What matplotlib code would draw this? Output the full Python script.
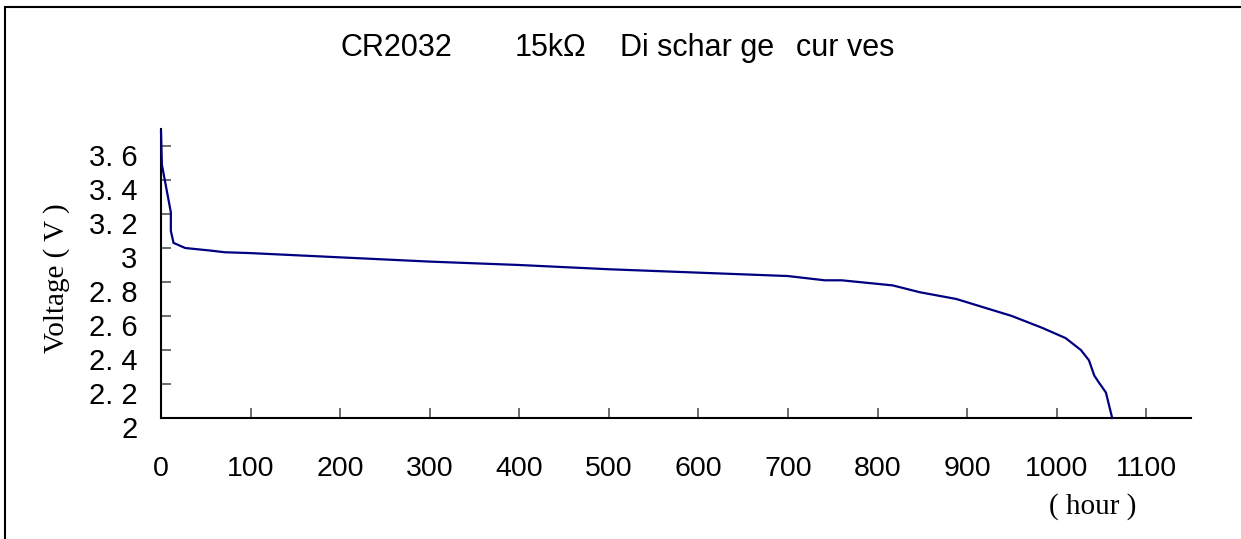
#! /usr/bin/env python
# -*- coding: utf-8 -*-

import matplotlib.pyplot as plt
from matplotlib.patches import Rectangle
from matplotlib.transforms import ScaledTranslation

# discharge curve
hours = [0, 1, 11, 11, 14, 27, 55, 71, 100, 200, 300, 400, 500, 600, 700,
         741, 760, 817, 847, 888, 950, 984, 1010, 1027, 1036, 1042, 1047, 1055, 1062]
volts = [3.69, 3.49, 3.21, 3.10, 3.03, 3.0, 2.985, 2.975, 2.97, 2.945, 2.92, 2.90,
         2.875, 2.855, 2.835, 2.81, 2.81, 2.78, 2.74, 2.70, 2.60, 2.53, 2.47, 2.40,
         2.34, 2.25, 2.21, 2.15, 2.0]

xticks = [0, 100, 200, 300, 400, 500, 600, 700, 800, 900, 1000, 1100]
yticks = [2, 2.2, 2.4, 2.6, 2.8, 3, 3.2, 3.4, 3.6]
ylabels = ['2', '2. 2', '2. 4', '2. 6', '2. 8', '3', '3. 2', '3. 4', '3. 6']

title_parts = ['CR2032', '15k\u03a9', 'Di schar ge', 'cur ves']

W, H = 1241, 539
dpi = 100
fig = plt.figure(figsize=(W / dpi, H / dpi), dpi=dpi)
ax = fig.add_axes([161 / W, 1 - 418 / H, (1191 - 161) / W, (418 - 129) / H])

ax.plot(hours, volts, color='#000080', lw=1.6, zorder=3, clip_on=False)

ax.set_xlim(0, 1150)
ax.set_ylim(2, 3.7)
ax.set_xticks(xticks)
ax.set_yticks(yticks)
ax.set_yticklabels(ylabels)

for s in ['top', 'right']:
    ax.spines[s].set_visible(False)
for s in ['left', 'bottom']:
    ax.spines[s].set_linewidth(1.5)

sans = ['Liberation Sans', 'DejaVu Sans']
serif = ['Liberation Serif', 'DejaVu Serif']

ax.tick_params(axis='both', direction='in', length=7, width=1.2, color='#555555')
ax.tick_params(axis='x', pad=27, labelsize=20.5)
ax.tick_params(axis='y', pad=17, labelsize=21)
for lab in ax.get_xticklabels() + ax.get_yticklabels():
    lab.set_family(sans)
# y labels sit a bit below their ticks in the original
for lab in ax.get_yticklabels():
    lab.set_transform(lab.get_transform() + ScaledTranslation(0, -9 / dpi, fig.dpi_scale_trans))

# title words are spread out like the original
for txt, x in zip(title_parts, [340, 515, 620, 796]):
    fig.text(x / W, 1 - 48 / H, txt, ha='left', va='center', fontsize=22, family=sans)

fig.text(57 / W, 1 - 278 / H, 'Voltage ( V )', rotation=90, ha='center', va='center',
         fontsize=21, family=serif)
fig.text(1093 / W, 1 - 507 / H, '( hour )', ha='center', va='center',
         fontsize=21, family=serif)

# outer frame, cut off on the right and bottom like the original
fig.add_artist(Rectangle((5 / W, -0.1), 2, 1.1 - 7 / H, transform=fig.transFigure,
                         fill=False, lw=1.5, color='black', clip_on=False))

fig.savefig('out.png', dpi=dpi)
